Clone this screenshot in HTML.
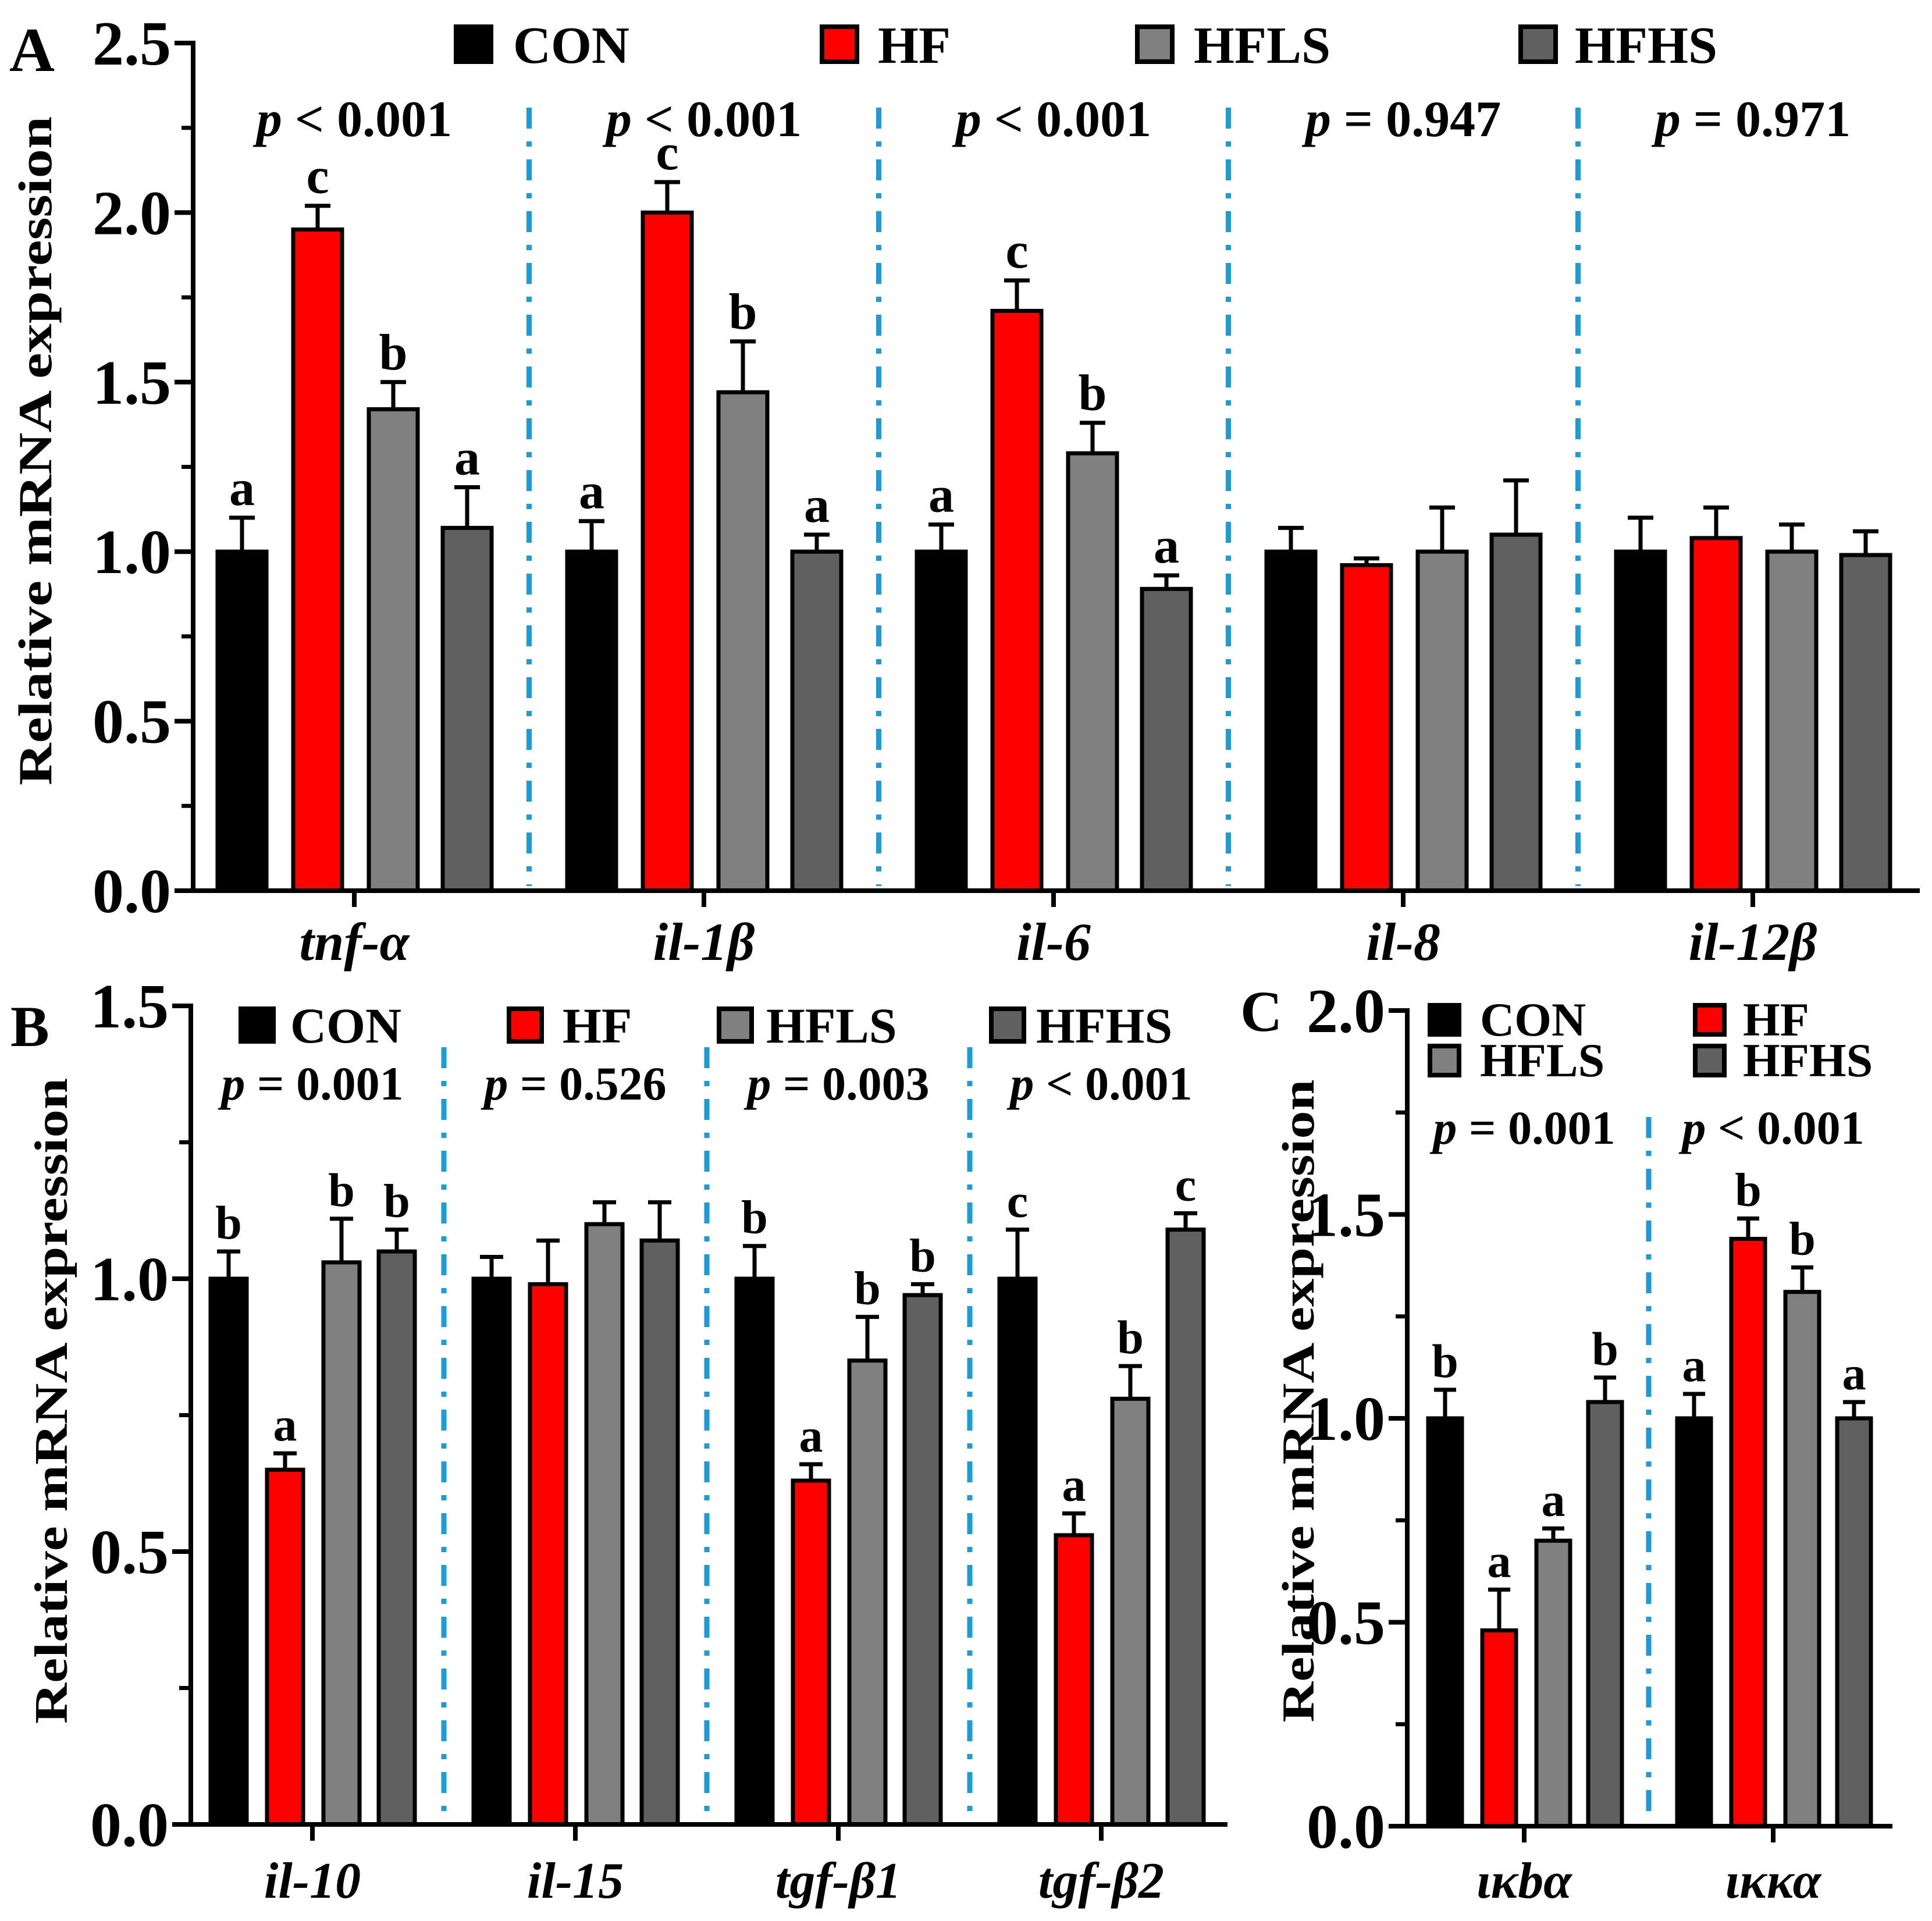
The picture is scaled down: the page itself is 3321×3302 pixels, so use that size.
<!DOCTYPE html>
<html><head><meta charset="utf-8"><style>
html,body{margin:0;padding:0;background:#fff;}
svg{display:block;font-family:"Liberation Serif","DejaVu Serif",serif;font-weight:bold;}
</style></head><body>
<svg id="fig" width="3321" height="3302" viewBox="0 0 3321 3302" xmlns="http://www.w3.org/2000/svg"></svg>
<script>
// ---- Panel A data ----
const catsA = ["tnf-α","il-1β","il-6","il-8","il-12β"];
const conA  = [1.00, 1.00, 1.00, 1.00, 1.00];
const hfA   = [1.95, 2.00, 1.71, 0.96, 1.04];
const hflsA = [1.42, 1.47, 1.29, 1.00, 1.00];
const hfhsA = [1.07, 1.00, 0.89, 1.05, 0.99];
const conErrA  = [0.10, 0.09, 0.08, 0.07, 0.10];
const hfErrA   = [0.07, 0.09, 0.09, 0.02, 0.09];
const hflsErrA = [0.08, 0.15, 0.09, 0.13, 0.08];
const hfhsErrA = [0.12, 0.05, 0.04, 0.16, 0.07];
const lettersA = [["a","c","b","a"],["a","c","b","a"],["a","c","b","a"],["","","",""],["","","",""]];
const pA = ["< 0.001","< 0.001","< 0.001","= 0.947","= 0.971"];
const ticksA = ["0.0","0.5","1.0","1.5","2.0","2.5"];
// ---- Panel B data ----
const catsB = ["il-10","il-15","tgf-β1","tgf-β2"];
const conB  = [1.00, 1.00, 1.00, 1.00];
const hfB   = [0.65, 0.99, 0.63, 0.53];
const hflsB = [1.03, 1.10, 0.85, 0.78];
const hfhsB = [1.05, 1.07, 0.97, 1.09];
const conErrB  = [0.05, 0.04, 0.06, 0.09];
const hfErrB   = [0.03, 0.08, 0.03, 0.04];
const hflsErrB = [0.08, 0.04, 0.08, 0.06];
const hfhsErrB = [0.04, 0.07, 0.02, 0.03];
const lettersB = [["b","a","b","b"],["","","",""],["b","a","b","b"],["c","a","b","c"]];
const pB = ["= 0.001","= 0.526","= 0.003","< 0.001"];
const ticksB = ["0.0","0.5","1.0","1.5"];
// ---- Panel C data ----
const catsC = ["ικbα","ικκα"];
const conC  = [1.00, 1.00];
const hfC   = [0.48, 1.44];
const hflsC = [0.70, 1.31];
const hfhsC = [1.04, 1.00];
const conErrC  = [0.07, 0.06];
const hfErrC   = [0.10, 0.05];
const hflsErrC = [0.03, 0.06];
const hfhsErrC = [0.06, 0.04];
const lettersC = [["b","a","a","b"],["a","b","b","a"]];
const pC = ["= 0.001","< 0.001"];
const ticksC = ["0.0","0.5","1.0","1.5","2.0"];

const NS="http://www.w3.org/2000/svg";
const svg=document.getElementById('fig');
const colors=["#000000","#ff0000","#808080","#606060"];
function mk(tag,attrs,parent,text){const e=document.createElementNS(NS,tag);for(const k in attrs)e.setAttribute(k,attrs[k]);if(text!==undefined)e.textContent=text;(parent||svg).appendChild(e);return e;}

function panel(P){
  const g=mk('g',{});
  
  
  const y=v=>P.y0-(v/P.ymax)*(P.y0-P.yTop);
  const x=i=>P.c0+i*P.sp;
  for(let i=0;i<P.cats.length-1;i++){
    const dx=(x(i)+x(i+1))/2;
    const d=mk('line',{x1:dx,x2:dx,y1:P.divTop,y2:P.y0-8,stroke:'#1b9bd7','stroke-width':9,'stroke-dasharray':'36,22,9,22'},g);
    
    
  }
  const series=[P.con,P.hf,P.hfls,P.hfhs], errs=[P.conE,P.hfE,P.hflsE,P.hfhsE];
  for(let i=0;i<P.cats.length;i++){
    for(let s=0;s<4;s++){
      const cx=x(i)+P.off[s], v=series[s][i], top=y(v), et=y(v+errs[s][i]);
      mk('line',{x1:cx,x2:cx,y1:top,y2:et,stroke:'#000','stroke-width':7},g);
      mk('line',{x1:cx-P.cap,x2:cx+P.cap,y1:et,y2:et,stroke:'#000','stroke-width':7},g);
      const r=mk('rect',{x:cx-P.bw/2,y:top,width:P.bw,height:P.y0-top,fill:colors[s],stroke:'#000','stroke-width':7},g);
      
      
      const L=P.letters[i][s];
      if(L){const t=mk('text',{x:cx,y:et-22,'text-anchor':'middle','font-size':P.fs},g,L);
        
        }
    }
    const pt=mk('text',{x:x(i),y:P.pY,'text-anchor':'middle','font-size':P.fs},g);
    
    
    mk('tspan',{'font-style':'italic'},pt,'p');
    mk('tspan',{},pt,' '+P.p[i]);
    mk('line',{x1:x(i),x2:x(i),y1:P.y0,y2:P.y0+28,stroke:'#000','stroke-width':8},g);
    const xl=mk('text',{x:x(i),y:P.xlY,'text-anchor':'middle','font-size':P.fsx,'font-style':'italic'},g,P.cats[i]);
    
    
  }
  const ya=mk('line',{x1:P.ax,x2:P.ax,y1:P.yTop-4,y2:P.y0+4,stroke:'#000','stroke-width':8},g);
  
  
  const xa=mk('line',{x1:P.ax-4,x2:P.axEnd,y1:P.y0,y2:P.y0,stroke:'#000','stroke-width':8},g);
  
  
  const step=P.ymax/(P.ticks.length-1);
  for(let k=0;k<P.ticks.length;k++){
    const ty=y(k*step);
    mk('line',{x1:P.ax-32,x2:P.ax,y1:ty,y2:ty,stroke:'#000','stroke-width':8},g);
    const tl=mk('text',{x:P.ax-38,y:ty+37,'text-anchor':'end','font-size':P.fst},g,P.ticks[k]);
    
    
    if(k<P.ticks.length-1){const my=y((k+0.5)*step);mk('line',{x1:P.ax-20,x2:P.ax,y1:my,y2:my,stroke:'#000','stroke-width':7},g);}
  }
  const yt=mk('text',{x:0,y:0,transform:`translate(${P.ytX},${P.ytY}) rotate(-90)`,'text-anchor':'middle','font-size':P.ytFs,textLength:P.ytLen,lengthAdjust:'spacingAndGlyphs'},g,'Relative mRNA expression');
  
  
  const pl=mk('text',{x:P.plX,y:P.plY,'font-size':P.plFs},g,P.label);
  
  
  const names=["CON","HF","HFLS","HFHS"];
  for(let s=0;s<4;s++){
    const L=P.leg[s];
    const sq=mk('rect',{x:L[0]+4,y:L[1]+4,width:P.sq-8,height:P.sq-8,fill:colors[s],stroke:'#000','stroke-width':8},g);
    
    
    const lt=mk('text',{x:L[2],y:L[1]+P.sq-2,'font-size':P.lfs},g,names[s]);
    
    
  }
}

panel({name:'panel-a',label:'A',cats:catsA,con:conA,hf:hfA,hfls:hflsA,hfhs:hfhsA,conE:conErrA,hfE:hfErrA,hflsE:hflsErrA,hfhsE:hfhsErrA,
  letters:lettersA,p:pA,ticks:ticksA,ymax:2.5,y0:1531,yTop:74,ax:332,axEnd:3300,c0:609,sp:601,off:[-193,-63,67,194],bw:84,cap:22,
  fs:88,fsx:92,fst:108,pY:234,xlY:1650,divTop:185,ytX:88,ytY:775,ytFs:82,ytLen:1150,plX:16,plY:122,plFs:108,
  sq:68,lfs:90,leg:[[780,42,882],[1409,42,1509],[1951,42,2052],[2610,42,2707]]});
panel({name:'panel-b',label:'B',cats:catsB,con:conB,hf:hfB,hfls:hflsB,hfhs:hfhsB,conE:conErrB,hfE:hfErrB,hflsE:hflsErrB,hfhsE:hfhsErrB,
  letters:lettersB,p:pB,ticks:ticksB,ymax:1.5,y0:3136,yTop:1729,ax:328,axEnd:2110,c0:537,sp:452,off:[-144,-47,50,145],bw:62,cap:20,
  fs:82,fsx:88,fst:108,pY:1890,xlY:3262,divTop:1800,ytX:115,ytY:2408,ytFs:80,ytLen:1110,plX:18,plY:1798,plFs:100,
  sq:64,lfs:86,leg:[[410,1730,499],[871,1730,967],[1232,1730,1317],[1700,1730,1781]]});
panel({name:'panel-c',label:'C',cats:catsC,con:conC,hf:hfC,hfls:hflsC,hfhs:hfhsC,conE:conErrC,hfE:hfErrC,hflsE:hflsErrC,hfhsE:hfhsErrC,
  letters:lettersC,p:pC,ticks:ticksC,ymax:2.0,y0:3139,yTop:1737,ax:2419,axEnd:3253,c0:2620,sp:428,off:[-136,-43,50,139],bw:58,cap:19,
  fs:82,fsx:88,fst:108,pY:1966,xlY:3262,divTop:1920,ytX:2258,ytY:2408,ytFs:78,ytLen:1105,plX:2132,plY:1772,plFs:100,
  sq:58,lfs:82,leg:[[2454,1724,2544],[2910,1724,2996],[2454,1794,2544],[2910,1794,2996]]});
</script>
</body></html>
